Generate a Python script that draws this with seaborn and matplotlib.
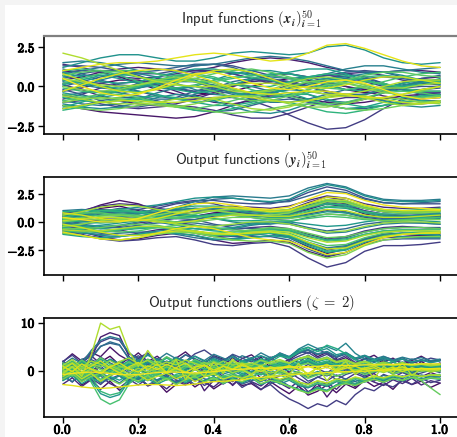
import numpy as np
import pandas as pd
import matplotlib
matplotlib.use("Agg")
import matplotlib.pyplot as plt
import matplotlib.patheffects as pe
from matplotlib.patches import Rectangle
from matplotlib.ticker import FuncFormatter
import seaborn as sns

# ---------------- data (values read / estimated from the reference) ----------------
X_TICKS = [0.0, 0.2, 0.4, 0.6, 0.8, 1.0]
Y_TICKS_12 = [-2.5, 0.0, 2.5]
Y_TICKS_3 = [0, 10]

INPUT_CURVES = [
    [-0.3,-0.1,0.2,0.4,0.4,0.2,-0.1,-0.4,-0.5,-0.3,0.0,0.3,0.5,0.4,0.1,-0.2,-0.4,-0.3,0.0,0.3,0.4],
    [0.9,1.0,0.9,0.6,0.2,-0.2,-0.5,-0.6,-0.4,0.0,0.4,0.7,0.8,0.6,0.3,0.0,-0.2,-0.1,0.2,0.5,0.6],
    [-1.2,-1.4,-1.6,-1.7,-1.8,-1.9,-2.0,-1.9,-1.6,-1.2,-0.8,-0.6,-0.6,-0.8,-1.0,-1.1,-1.0,-0.8,-0.6,-0.5,-0.5],
    [0.4,0.6,0.9,1.1,1.2,1.1,1.0,1.0,1.2,1.5,1.7,1.8,1.7,1.5,1.2,1.0,0.9,0.9,1.0,1.0,0.9],
    [-0.8,-0.5,-0.1,0.2,0.3,0.1,-0.3,-0.7,-1.0,-1.1,-0.9,-0.5,-0.1,0.2,0.2,0.0,-0.3,-0.6,-0.8,-0.8,-0.7],
    [0.1,-0.2,-0.6,-0.9,-1.1,-1.2,-1.1,-0.8,-0.4,0.0,0.3,0.4,0.3,0.0,-0.3,-0.5,-0.5,-0.3,0.0,0.2,0.3],
    [1.4,1.2,0.9,0.6,0.5,0.6,0.8,1.0,1.0,0.8,0.5,0.2,0.1,0.2,0.5,0.8,0.9,0.7,0.4,0.2,0.1],
    [-0.5,-0.8,-1.1,-1.3,-1.4,-1.3,-1.2,-1.3,-1.5,-1.8,-2.0,-2.0,-1.7,-1.3,-0.9,-0.7,-0.7,-0.9,-1.1,-1.1,-1.0],
    [0.2,0.3,0.2,0.0,-0.3,-0.6,-0.8,-0.8,-0.7,-0.7,-0.9,-1.3,-1.8,-2.3,-2.7,-2.6,-2.1,-1.4,-0.8,-0.5,-0.4],
    [0.7,0.4,0.0,-0.2,-0.1,0.2,0.6,0.9,1.0,0.8,0.5,0.3,0.3,0.5,0.7,0.8,0.6,0.2,-0.2,-0.4,-0.4],
    [-1.0,-0.9,-0.6,-0.2,0.2,0.5,0.5,0.3,-0.1,-0.4,-0.5,-0.3,0.1,0.5,0.7,0.6,0.3,0.0,-0.2,-0.2,-0.1],
    [1.3,1.3,1.2,1.0,0.8,0.8,1.0,1.3,1.4,1.3,1.0,0.7,0.5,0.5,0.7,0.9,1.0,0.9,0.6,0.3,0.2],
    [-0.2,-0.5,-0.9,-1.2,-1.3,-1.1,-0.7,-0.3,0.0,0.1,0.0,-0.3,-0.7,-1.0,-1.2,-1.1,-0.8,-0.4,-0.1,0.0,0.0],
    [0.5,0.8,1.0,1.0,0.7,0.3,-0.1,-0.3,-0.2,0.1,0.4,0.5,0.3,0.0,-0.4,-0.6,-0.5,-0.2,0.2,0.5,0.7],
    [-1.4,-1.2,-0.9,-0.7,-0.7,-0.9,-1.2,-1.5,-1.6,-1.5,-1.2,-0.9,-0.8,-0.9,-1.2,-1.4,-1.4,-1.2,-1.0,-0.9,-0.9],
    [0.0,0.3,0.6,0.8,0.9,1.0,1.2,1.4,1.4,1.2,0.8,0.4,0.1,0.0,0.1,0.3,0.5,0.6,0.5,0.3,0.2],
    [1.1,0.8,0.4,0.1,0.0,0.2,0.4,0.5,0.3,-0.1,-0.5,-0.7,-0.6,-0.2,0.2,0.5,0.5,0.2,-0.2,-0.5,-0.6],
    [-0.6,-0.4,-0.3,-0.4,-0.6,-0.8,-0.8,-0.5,-0.1,0.3,0.5,0.4,0.0,-0.5,-0.9,-1.0,-0.8,-0.4,0.0,0.3,0.4],
    [0.8,1.0,1.2,1.4,1.5,1.4,1.3,1.3,1.4,1.6,1.8,1.9,1.8,1.6,1.3,1.0,0.9,0.9,1.0,1.1,1.2],
    [-0.9,-1.1,-1.2,-1.1,-0.8,-0.4,-0.1,0.0,-0.2,-0.5,-0.8,-1.0,-1.0,-0.8,-0.5,-0.2,-0.1,-0.3,-0.6,-0.9,-1.0],
    [0.3,0.1,-0.1,-0.2,-0.1,0.1,0.3,0.3,0.1,-0.2,-0.4,-0.4,-0.2,0.1,0.4,0.5,0.4,0.1,-0.2,-0.3,-0.3],
    [1.5,1.6,1.5,1.3,1.0,0.8,0.7,0.8,0.9,0.9,0.8,0.6,0.5,0.6,0.8,1.1,1.3,1.3,1.1,0.9,0.8],
    [-0.3,0.0,0.4,0.7,0.8,0.6,0.2,-0.2,-0.5,-0.6,-0.5,-0.3,-0.2,-0.3,-0.5,-0.6,-0.5,-0.2,0.1,0.3,0.3],
    [-1.1,-1.3,-1.4,-1.3,-1.0,-0.7,-0.5,-0.6,-0.9,-1.3,-1.6,-1.7,-1.5,-1.1,-0.7,-0.5,-0.6,-0.9,-1.2,-1.3,-1.2],
    [0.6,0.7,0.7,0.5,0.2,-0.1,-0.2,0.0,0.4,0.8,1.0,1.0,0.8,0.6,0.5,0.6,0.8,0.9,0.7,0.4,0.1],
    [1.2,1.5,1.8,2.0,2.0,1.8,1.6,1.6,1.8,2.1,2.2,2.1,2.0,2.1,2.5,2.6,2.3,1.8,1.5,1.4,1.5],
    [-0.4,-0.6,-0.7,-0.5,-0.1,0.3,0.5,0.4,0.0,-0.4,-0.6,-0.5,-0.1,0.3,0.5,0.4,0.1,-0.2,-0.3,-0.2,0.0],
    [0.9,0.6,0.3,0.2,0.3,0.6,0.9,1.1,1.1,0.9,0.7,0.7,0.9,1.1,1.1,0.8,0.4,0.1,0.0,0.2,0.5],
    [-1.3,-1.0,-0.6,-0.3,-0.3,-0.5,-0.8,-1.0,-0.9,-0.6,-0.3,-0.2,-0.4,-0.8,-1.2,-1.4,-1.3,-1.0,-0.7,-0.6,-0.7],
    [0.1,0.4,0.7,0.8,0.6,0.2,-0.2,-0.4,-0.3,0.1,0.5,0.8,0.8,0.5,0.1,-0.2,-0.3,-0.1,0.2,0.4,0.4],
    [-0.7,-0.9,-1.0,-0.9,-0.7,-0.6,-0.7,-1.0,-1.2,-1.2,-1.0,-0.7,-0.5,-0.5,-0.8,-1.1,-1.3,-1.2,-0.9,-0.6,-0.5],
    [0.4,0.2,0.0,-0.1,0.0,0.3,0.6,0.7,0.5,0.2,0.0,0.0,0.3,0.6,0.8,0.7,0.4,0.1,0.0,0.1,0.3],
    [-1.5,-1.3,-1.0,-0.8,-0.8,-1.0,-1.3,-1.5,-1.6,-1.4,-1.1,-0.9,-1.0,-1.3,-1.6,-1.7,-1.5,-1.2,-1.0,-0.9,-1.0],
    [1.0,1.1,1.0,0.7,0.3,0.0,-0.1,0.1,0.4,0.6,0.6,0.4,0.1,-0.1,0.0,0.3,0.6,0.7,0.6,0.4,0.3],
    [-0.1,-0.3,-0.4,-0.3,0.0,0.4,0.7,0.8,0.6,0.2,-0.2,-0.5,-0.6,-0.4,-0.1,0.2,0.3,0.2,-0.1,-0.3,-0.3],
    [0.2,0.5,0.8,1.0,1.0,0.8,0.5,0.3,0.3,0.5,0.7,0.7,0.5,0.2,-0.1,-0.2,0.0,0.3,0.6,0.8,0.9],
    [-0.9,-0.7,-0.5,-0.5,-0.7,-1.0,-1.3,-1.4,-1.2,-0.9,-0.6,-0.5,-0.6,-0.9,-1.1,-1.0,-0.7,-0.4,-0.3,-0.4,-0.6],
    [0.7,0.9,1.0,0.9,0.6,0.4,0.3,0.5,0.8,1.0,1.1,0.9,0.6,0.3,0.2,0.4,0.7,0.9,0.9,0.7,0.6],
    [-0.5,-0.7,-0.8,-0.7,-0.4,-0.1,0.1,0.0,-0.3,-0.7,-0.9,-0.9,-0.6,-0.2,0.1,0.2,0.0,-0.3,-0.6,-0.7,-0.6],
    [-1.2,-1.4,-1.5,-1.4,-1.2,-1.1,-1.2,-1.4,-1.6,-1.7,-1.6,-1.4,-1.2,-1.1,-1.2,-1.4,-1.5,-1.4,-1.2,-1.0,-0.9],
    [0.0,-0.2,-0.3,-0.2,0.1,0.4,0.6,0.5,0.2,-0.2,-0.4,-0.3,0.0,0.3,0.4,0.2,-0.1,-0.4,-0.5,-0.3,0.0],
    [-1.0,-0.8,-0.7,-0.8,-1.0,-1.2,-1.3,-1.1,-0.8,-0.6,-0.6,-0.8,-1.1,-1.3,-1.3,-1.1,-0.8,-0.7,-0.8,-1.0,-1.1],
    [0.5,0.3,0.1,0.0,0.1,0.3,0.4,0.3,0.0,-0.3,-0.4,-0.2,0.2,0.5,0.6,0.4,0.1,-0.1,-0.1,0.1,0.2],
    [-0.6,-0.8,-1.0,-1.1,-1.1,-1.0,-0.8,-0.7,-0.8,-1.1,-1.4,-1.5,-1.3,-0.9,-0.6,-0.5,-0.7,-1.0,-1.2,-1.1,-0.9],
    [2.1,1.8,1.4,1.0,0.6,0.3,0.1,0.0,0.0,0.1,0.2,0.2,0.0,-0.3,-0.5,-0.5,-0.3,0.0,0.3,0.4,0.4],
    [-1.4,-1.2,-1.0,-0.9,-0.9,-1.0,-1.0,-0.9,-0.7,-0.6,-0.7,-0.9,-1.0,-0.9,-0.7,-0.6,-0.6,-0.8,-1.0,-1.1,-1.0],
    [0.8,0.4,0.0,-0.3,-0.4,-0.2,0.2,0.7,1.0,1.1,0.9,0.5,0.1,-0.1,-0.1,0.1,0.4,0.6,0.6,0.4,0.2],
    [-0.3,0.1,0.5,0.8,1.0,1.1,1.0,0.7,0.3,-0.1,-0.4,-0.5,-0.4,-0.3,-0.3,-0.5,-0.7,-0.7,-0.5,-0.2,0.0],
    [1.0,1.2,1.4,1.5,1.5,1.6,1.8,2.0,2.1,2.0,1.8,1.6,1.7,2.1,2.6,2.7,2.4,2.0,1.6,1.3,1.2],
    [0.5,0.0,-0.4,-0.6,-0.5,-0.1,0.4,0.8,0.9,0.6,0.2,-0.1,-0.2,0.0,0.3,0.4,0.2,-0.2,-0.6,-0.8,-0.7],
]

OUTPUT_CURVES = [
    [0.2,0.6,1.2,1.4,1.0,0.5,0.3,0.5,0.8,0.9,0.7,0.5,0.6,1.1,1.6,1.3,0.7,0.4,0.3,0.4,0.5],
    [-0.3,-0.6,-0.9,-0.8,-0.5,-0.4,-0.6,-1.0,-1.3,-1.2,-1.0,-1.0,-1.4,-2.2,-2.8,-2.4,-1.6,-1.2,-1.1,-1.2,-1.2],
    [0.5,0.9,1.5,1.9,1.6,1.0,0.6,0.5,0.7,0.8,0.6,0.4,0.6,1.3,1.9,1.6,0.9,0.6,0.5,0.6,0.7],
    [-0.6,-0.9,-1.3,-1.6,-1.5,-1.2,-1.0,-1.2,-1.6,-1.9,-1.8,-1.6,-1.8,-2.6,-3.1,-2.7,-1.9,-1.4,-1.3,-1.2,-1.0],
    [0.0,0.3,0.7,0.9,0.8,0.6,0.6,0.9,1.2,1.3,1.1,0.9,1.1,1.7,2.2,1.9,1.2,0.9,0.8,0.9,1.0],
    [-1.0,-1.2,-1.4,-1.3,-1.0,-0.7,-0.6,-0.8,-1.1,-1.2,-1.1,-1.0,-1.3,-2.0,-2.5,-2.2,-1.5,-1.1,-1.0,-1.1,-1.3],
    [0.7,1.0,1.4,1.6,1.5,1.2,1.0,1.1,1.3,1.4,1.3,1.2,1.4,1.9,2.3,2.1,1.6,1.3,1.2,1.2,1.3],
    [-0.4,-0.5,-0.6,-0.4,-0.1,0.1,0.0,-0.3,-0.6,-0.7,-0.5,-0.4,-0.6,-1.1,-1.5,-1.3,-0.8,-0.5,-0.4,-0.5,-0.6],
    [-0.8,-1.1,-1.5,-1.7,-1.6,-1.4,-1.3,-1.6,-2.0,-2.1,-1.9,-1.8,-2.2,-3.2,-4.0,-3.6,-2.6,-2.1,-2.1,-2.0,-1.8],
    [0.3,0.2,0.1,0.3,0.7,1.2,1.6,1.8,1.6,1.2,0.9,0.8,0.9,1.3,1.7,1.5,1.0,0.7,0.6,0.6,0.6],
    [-0.2,0.0,0.3,0.4,0.3,0.1,0.0,0.2,0.5,0.6,0.4,0.2,0.3,0.7,1.0,0.8,0.4,0.2,0.2,0.3,0.4],
    [0.6,0.7,0.8,0.9,1.1,1.4,1.7,1.9,1.9,1.7,1.6,1.6,1.9,2.6,3.1,2.8,2.1,1.7,1.6,1.6,1.6],
    [-0.7,-0.8,-0.9,-0.7,-0.3,0.1,0.3,0.2,-0.2,-0.5,-0.6,-0.6,-0.8,-1.3,-1.6,-1.4,-0.9,-0.6,-0.5,-0.5,-0.5],
    [0.1,0.4,0.9,1.2,1.1,0.8,0.7,0.9,1.1,1.0,0.7,0.5,0.5,0.8,1.1,0.9,0.5,0.3,0.3,0.4,0.5],
    [-0.5,-0.7,-1.0,-1.2,-1.2,-1.0,-0.8,-0.9,-1.1,-1.3,-1.3,-1.3,-1.6,-2.4,-3.0,-2.7,-2.0,-1.6,-1.5,-1.5,-1.5],
    [0.8,1.0,1.1,1.0,0.8,0.8,1.1,1.6,2.0,2.1,1.9,1.7,1.8,2.3,2.8,2.6,2.0,1.7,1.6,1.7,1.8],
    [-0.1,-0.3,-0.5,-0.5,-0.3,-0.1,0.0,-0.1,-0.3,-0.3,-0.1,0.0,-0.1,-0.5,-0.8,-0.6,-0.2,0.0,0.0,-0.1,-0.2],
    [0.4,0.6,0.8,0.7,0.4,0.1,0.0,0.2,0.6,0.9,1.0,0.9,1.0,1.5,1.9,1.7,1.2,0.9,0.8,0.7,0.7],
    [-0.9,-1.0,-1.1,-1.0,-0.9,-0.9,-1.1,-1.4,-1.6,-1.5,-1.2,-1.0,-1.2,-1.8,-2.3,-2.1,-1.5,-1.1,-1.0,-1.0,-1.1],
    [0.2,0.1,0.0,0.1,0.4,0.8,1.1,1.2,1.0,0.7,0.5,0.5,0.7,1.2,1.6,1.4,0.9,0.6,0.5,0.5,0.6],
    [1.0,1.1,1.0,0.8,0.7,0.9,1.3,1.8,2.2,2.3,2.2,2.1,2.3,3.0,3.4,3.1,2.4,2.0,1.9,1.9,2.0],
    [-0.3,-0.2,0.0,0.2,0.2,0.0,-0.3,-0.6,-0.7,-0.6,-0.3,-0.1,-0.2,-0.6,-1.0,-0.9,-0.5,-0.2,-0.1,-0.1,-0.2],
    [0.0,-0.2,-0.4,-0.3,0.0,0.4,0.6,0.6,0.3,0.0,-0.2,-0.2,0.0,0.4,0.7,0.6,0.3,0.1,0.1,0.2,0.3],
    [-0.6,-0.9,-1.2,-1.3,-1.1,-0.8,-0.7,-0.9,-1.3,-1.5,-1.4,-1.2,-1.3,-1.9,-2.4,-2.2,-1.6,-1.3,-1.3,-1.4,-1.4],
    [0.5,0.6,0.6,0.5,0.5,0.7,1.0,1.2,1.2,1.0,0.8,0.7,0.8,1.3,1.8,1.7,1.2,0.9,0.8,0.8,0.8],
    [0.3,0.5,0.8,1.1,1.3,1.5,1.8,2.1,2.2,2.1,1.9,1.8,2.0,2.8,3.3,3.0,2.3,1.9,1.8,1.8,1.9],
    [-0.4,-0.4,-0.3,-0.1,0.1,0.1,-0.1,-0.4,-0.6,-0.5,-0.2,0.0,0.0,-0.2,-0.4,-0.3,0.0,0.2,0.2,0.1,0.0],
    [0.6,0.8,1.0,1.0,0.8,0.5,0.4,0.5,0.7,0.8,0.6,0.4,0.4,0.6,0.9,0.8,0.5,0.4,0.5,0.6,0.7],
    [-1.1,-1.3,-1.4,-1.3,-1.1,-1.0,-1.0,-1.2,-1.5,-1.6,-1.4,-1.2,-1.4,-2.1,-2.7,-2.5,-1.8,-1.3,-1.1,-1.1,-1.2],
    [0.1,0.0,-0.1,0.0,0.3,0.6,0.7,0.6,0.3,0.1,0.1,0.2,0.4,0.9,1.3,1.2,0.8,0.5,0.4,0.4,0.4],
    [-0.2,-0.4,-0.6,-0.7,-0.6,-0.5,-0.5,-0.6,-0.8,-0.9,-0.8,-0.7,-0.8,-1.2,-1.6,-1.5,-1.1,-0.8,-0.7,-0.7,-0.7],
    [0.9,1.0,1.0,0.9,0.9,1.0,1.2,1.4,1.4,1.3,1.1,1.0,1.0,1.3,1.6,1.5,1.2,1.0,1.0,1.1,1.2],
    [-0.5,-0.7,-0.8,-0.7,-0.5,-0.4,-0.5,-0.8,-1.1,-1.2,-1.1,-1.0,-1.2,-1.9,-2.6,-2.4,-1.7,-1.2,-1.0,-0.9,-0.9],
    [0.4,0.7,1.0,1.1,0.9,0.6,0.4,0.4,0.6,0.7,0.6,0.5,0.6,1.0,1.4,1.3,0.9,0.7,0.7,0.8,0.9],
    [-0.8,-0.9,-0.9,-0.7,-0.5,-0.5,-0.7,-1.0,-1.2,-1.1,-0.8,-0.6,-0.7,-1.2,-1.7,-1.6,-1.1,-0.8,-0.7,-0.8,-0.9],
    [0.2,0.4,0.6,0.7,0.6,0.4,0.3,0.4,0.6,0.6,0.4,0.2,0.1,0.3,0.5,0.4,0.2,0.1,0.2,0.3,0.4],
    [-0.3,-0.5,-0.8,-0.9,-0.8,-0.5,-0.3,-0.3,-0.5,-0.7,-0.8,-0.8,-1.0,-1.6,-2.1,-2.0,-1.4,-1.0,-0.8,-0.7,-0.6],
    [0.7,0.8,0.8,0.6,0.4,0.3,0.4,0.7,1.0,1.1,1.0,0.8,0.9,1.4,1.9,1.8,1.3,1.0,0.9,0.9,1.0],
    [-0.6,-0.6,-0.5,-0.3,-0.2,-0.3,-0.6,-0.9,-1.0,-0.9,-0.7,-0.5,-0.6,-1.0,-1.4,-1.3,-0.9,-0.6,-0.5,-0.5,-0.6],
    [0.0,0.2,0.5,0.6,0.5,0.2,0.0,0.0,0.2,0.4,0.4,0.3,0.3,0.5,0.7,0.6,0.3,0.1,0.1,0.2,0.2],
    [-1.0,-1.2,-1.5,-1.6,-1.4,-1.1,-0.9,-1.0,-1.3,-1.6,-1.7,-1.7,-1.9,-2.7,-3.2,-2.9,-2.1,-1.6,-1.4,-1.3,-1.3],
    [0.3,0.3,0.2,0.2,0.3,0.6,0.9,1.1,1.0,0.8,0.6,0.6,0.8,1.3,1.8,1.7,1.2,0.9,0.8,0.8,0.9],
    [-0.4,-0.2,0.1,0.3,0.3,0.1,-0.2,-0.4,-0.4,-0.2,0.0,0.0,-0.2,-0.6,-0.9,-0.8,-0.4,-0.1,0.0,0.0,-0.1],
    [0.6,0.9,1.3,1.5,1.4,1.1,0.8,0.8,1.0,1.2,1.1,1.0,1.1,1.6,2.0,1.9,1.4,1.1,1.0,1.0,1.1],
    [-0.7,-0.8,-0.8,-0.6,-0.4,-0.4,-0.6,-0.9,-1.1,-1.1,-0.9,-0.8,-0.9,-1.4,-1.8,-1.7,-1.2,-0.9,-0.8,-0.8,-0.8],
    [0.1,0.3,0.4,0.4,0.2,0.0,-0.1,0.1,0.4,0.6,0.6,0.5,0.5,0.8,1.1,1.0,0.6,0.4,0.4,0.5,0.6],
    [-0.2,-0.5,-0.9,-1.2,-1.2,-1.0,-0.8,-0.8,-1.0,-1.1,-1.0,-0.9,-1.1,-1.8,-2.4,-2.3,-1.7,-1.3,-1.1,-1.0,-0.9],
    [0.8,0.6,0.3,0.1,0.1,0.3,0.7,1.1,1.3,1.3,1.1,0.9,1.0,1.6,2.2,2.1,1.5,1.1,1.0,1.0,1.0],
    [-0.9,-1.2,-1.5,-1.6,-1.4,-1.0,-0.6,-0.4,-0.6,-1.0,-1.4,-1.6,-1.7,-2.3,-2.9,-2.7,-2.0,-1.4,-1.1,-1.0,-1.0],
    [0.4,0.2,0.0,0.0,0.3,0.8,1.3,1.6,1.7,1.5,1.2,1.1,1.3,2.0,2.6,2.5,1.9,1.5,1.3,1.2,1.1],
]

OUTLIER_CURVES = [
    [1.5,0.2,2.1,-0.5,1.8,3.0,1.2,2.6,0.4,1.9,-0.3,1.1,2.4,0.8,1.6,-0.2,1.3,2.2,0.5,1.7,0.9,2.8,0.6,1.4,-0.4,1.2,2.0,0.3,1.8,2.5,0.7,1.5,-0.1,1.0,2.3,0.6,1.4,0.2,1.9,0.8,1.6],
    [-2.0,-0.4,-3.0,-1.8,-3.9,-2.2,-4.1,-2.6,-1.5,-3.2,-2.4,-4.5,-2.9,-1.7,-3.4,-2.1,-3.8,-2.5,-1.6,-3.1,-2.7,-4.0,-2.3,-3.6,-4.8,-3.2,-5.1,-4.3,-3.0,-4.6,-2.8,-3.7,-2.0,-3.3,-2.4,-3.9,-1.8,-2.9,-2.2,-3.5,-2.6],
    [1.8,3.5,2.0,3.8,2.9,4.9,3.2,2.1,3.7,1.9,3.0,1.4,2.6,3.9,2.2,1.6,3.1,2.4,1.2,2.5,3.3,1.7,2.8,1.3,2.3,3.6,4.4,2.9,3.8,2.0,2.7,1.5,2.4,3.2,1.8,2.6,1.3,2.1,3.0,1.9,2.3],
    [-0.5,1.2,-1.8,2.4,7.0,7.9,7.3,3.0,0.6,1.9,1.2,-0.4,1.5,-2.1,-0.6,-4.2,-2.0,-0.9,-3.1,-1.2,0.5,-1.6,-0.3,-2.4,-1.0,-3.3,-4.8,-2.6,-5.5,-3.0,-1.8,-3.4,-1.4,-0.6,-2.2,-0.9,-1.7,0.2,-1.3,-0.4,-1.1],
    [2.0,0.6,1.7,3.1,1.4,0.3,1.9,0.8,2.6,1.2,0.1,1.5,2.3,0.9,1.8,0.4,2.1,1.0,2.7,1.3,0.5,1.6,0.2,1.1,2.4,1.7,3.2,2.0,1.0,2.2,0.8,1.5,2.5,1.1,0.4,1.8,0.9,2.0,1.2,0.6,1.4],
    [-2.8,-1.5,-3.3,-1.9,-1.1,-2.7,-3.6,-2.0,-1.3,-3.1,-2.4,-3.8,-2.1,-3.0,-1.6,-2.5,-3.4,-1.8,-2.9,-1.4,-2.3,-3.2,-1.7,-2.6,-3.7,-2.2,-4.4,-3.3,-2.5,-3.9,-2.0,-2.8,-1.5,-2.4,-3.1,-1.9,-2.7,-1.6,-3.0,-2.1,-2.6],
    [0.3,1.6,0.5,-0.8,0.9,2.3,1.1,0.0,1.4,0.6,-0.4,0.8,1.7,0.2,1.0,-0.6,0.7,1.5,0.1,1.2,0.4,-0.3,1.3,0.5,1.9,0.7,2.6,1.5,0.6,1.8,0.3,1.1,-0.2,0.9,1.6,0.4,1.0,-0.1,0.8,1.4,0.6],
    [-1.3,0.2,-0.9,-2.2,-0.6,0.8,-1.1,-2.5,-0.4,-1.7,-0.8,0.3,-1.4,-0.5,-2.0,-1.0,0.1,-1.2,-2.3,-0.7,-1.5,-0.2,-1.9,-1.1,-0.3,-1.6,-2.7,-1.3,-2.1,-0.9,-1.8,-0.6,-1.4,-2.2,-0.8,-1.5,-0.4,-1.2,-2.0,-0.9,-1.3],
    [-0.8,-2.4,-0.3,-1.6,-2.9,-1.1,-0.2,-1.8,-3.0,-1.5,-2.3,-0.6,-1.9,-2.7,-1.2,-3.1,-2.0,-2.8,-1.6,-3.5,-2.4,-3.9,-2.9,-4.6,-5.9,-6.8,-7.9,-6.9,-7.5,-6.2,-7.1,-5.0,-3.6,-4.2,-2.8,-3.4,-2.1,-2.9,-1.6,-2.5,-2.0],
    [1.9,3.2,1.5,3.6,6.0,6.8,6.3,3.5,2.6,3.7,2.0,1.3,2.8,1.9,3.5,4.3,2.9,2.1,3.2,1.8,2.7,1.4,2.3,3.3,2.1,3.0,3.8,2.6,3.4,2.2,3.1,1.7,2.5,1.8,2.9,2.3,1.6,2.4,1.9,2.6,2.2],
    [0.0,-1.4,0.6,-0.5,1.0,-0.9,0.3,1.4,-0.2,0.7,-1.0,0.2,1.1,-0.4,0.5,-0.8,0.4,1.2,-0.3,0.6,-0.6,0.3,1.0,-0.2,0.8,0.1,1.3,0.4,-0.5,0.9,-0.1,0.6,-0.7,0.2,0.9,-0.3,0.5,-0.4,0.3,0.7,0.2],
    [1.4,0.3,2.2,1.1,2.8,1.6,0.7,2.0,3.1,1.7,2.5,1.0,1.9,3.3,2.3,1.5,2.8,2.0,3.4,2.6,1.8,3.0,2.2,3.7,2.9,4.1,3.6,4.5,3.5,2.7,3.8,2.5,3.1,2.0,2.7,1.8,2.4,1.5,2.2,1.7,2.1],
    [-0.9,0.4,-1.5,-0.3,-1.1,0.5,-0.6,-1.8,-0.2,0.9,-0.5,-1.3,0.1,-0.8,0.6,-0.4,-1.0,0.3,-0.7,-1.5,-0.3,0.4,-0.9,-0.1,-1.6,-0.6,-2.2,-1.4,-0.5,-1.9,-0.8,-0.2,-1.1,-0.4,0.2,-0.7,-0.3,-1.0,-0.5,0.1,-0.4],
    [0.6,1.9,0.9,2.3,1.4,0.5,1.7,0.8,2.1,1.2,2.5,1.5,0.6,1.8,0.9,0.2,1.3,0.7,1.6,0.4,1.1,-0.1,0.8,1.5,0.5,1.2,1.9,0.9,1.6,0.6,1.3,0.4,1.0,0.3,0.9,0.5,1.2,0.6,1.0,0.4,0.8],
    [-1.5,-0.4,-2.1,-1.0,-2.6,-1.7,-0.9,-2.3,-1.4,-3.0,-1.9,-1.0,-2.5,-1.6,-2.9,-2.0,-1.3,-2.4,-1.7,-2.8,-2.1,-1.5,-2.7,-2.0,-3.2,-3.9,-4.5,-3.6,-4.1,-3.0,-2.5,-3.1,-2.2,-1.7,-2.4,-1.6,-2.1,-1.4,-1.9,-1.5,-1.7],
    [1.8,0.7,2.4,2.8,5.1,5.7,5.3,2.6,0.8,2.2,1.3,2.8,1.9,3.3,2.5,1.6,2.9,2.1,3.2,1.8,2.4,1.5,2.6,3.4,2.7,3.6,4.2,3.3,3.9,2.8,3.4,2.2,2.9,1.9,2.5,2.0,2.7,1.7,2.3,1.8,2.2],
    [-0.2,1.0,-0.6,0.5,-1.2,0.2,0.9,-0.5,0.4,-0.9,0.1,-0.3,0.8,-0.6,0.3,-1.0,-0.2,0.6,-0.7,0.2,-0.4,0.7,-0.5,0.1,-0.9,-0.3,-1.4,-0.6,-1.1,-0.2,0.4,-0.5,0.3,-0.3,0.5,-0.4,0.2,-0.6,0.1,-0.2,0.0],
    [0.7,-0.5,1.3,2.5,5.0,6.0,5.4,2.4,0.3,1.6,0.9,2.0,1.2,0.5,1.8,1.0,2.3,1.4,0.7,1.9,1.1,2.4,1.3,0.8,1.7,2.5,3.0,2.2,2.8,1.6,2.1,1.2,1.8,0.9,1.5,0.7,1.3,0.8,1.1,0.6,0.9],
    [-1.2,-2.3,-0.7,-1.8,-0.5,-1.4,-2.6,-1.0,-1.9,-0.8,-2.0,-1.3,-2.4,-1.1,-0.6,-1.7,-2.2,-1.0,-1.9,-0.9,-1.5,-2.3,-1.2,-2.0,-1.6,-2.8,-3.4,-2.5,-3.1,-2.2,-1.7,-2.3,-1.4,-1.8,-1.0,-1.5,-1.1,-1.6,-0.9,-1.3,-1.2],
    [0.4,-0.8,0.9,1.8,0.5,-0.4,1.3,0.2,1.6,2.3,1.1,0.3,1.5,0.7,1.9,0.4,1.0,-0.2,0.8,0.3,1.2,0.5,0.9,1.6,0.7,1.4,2.0,1.3,1.8,0.9,1.5,0.6,1.1,0.4,0.9,0.3,0.8,0.5,0.7,0.4,0.6],
    [1.2,2.6,1.5,4.2,6.3,7.1,6.6,3.8,2.2,3.4,2.2,3.6,2.5,1.7,3.0,2.1,3.4,2.6,1.8,3.1,2.4,3.7,2.7,3.3,2.6,3.9,4.4,3.5,4.0,3.0,3.6,2.6,3.2,2.4,3.0,2.2,2.8,2.3,2.7,2.1,2.4],
    [-0.3,0.8,-0.9,0.2,-0.5,0.9,-0.2,-1.1,0.4,-0.6,0.3,-0.8,0.1,-0.4,-1.2,-0.3,0.5,-0.7,-0.1,-0.9,-0.2,0.4,-0.6,-0.1,-1.0,-0.4,-1.3,-0.8,-0.2,-1.1,-0.5,0.1,-0.6,-0.2,0.3,-0.4,0.0,-0.5,-0.1,0.2,-0.2],
    [0.2,1.4,-0.4,0.9,1.8,0.5,1.5,-0.1,1.1,0.4,1.7,0.6,1.3,0.2,1.9,1.0,2.3,1.2,0.5,1.6,2.2,1.4,2.6,3.3,2.8,4.5,5.5,4.6,5.0,4.2,5.7,3.6,2.4,1.7,2.3,1.0,1.8,0.7,1.4,0.9,1.1],
    [-1.7,-0.6,-2.2,-1.3,-0.8,-2.0,-1.1,-2.5,-1.6,-0.9,-2.1,-1.4,-2.7,-1.8,-1.0,-2.3,-1.5,-2.0,-1.2,-2.6,-1.7,-2.2,-1.4,-2.8,-2.0,-3.1,-3.6,-2.7,-3.3,-2.3,-2.8,-1.9,-2.4,-1.6,-2.1,-1.5,-1.9,-1.3,-1.7,-1.4,-1.6],
    [0.9,-0.2,1.4,0.5,1.9,0.8,0.1,1.2,2.0,1.0,1.6,0.5,1.3,0.8,1.7,0.9,2.1,1.2,0.6,1.5,0.9,2.2,1.4,1.8,1.1,2.4,2.9,2.0,2.5,1.5,2.0,1.2,1.7,0.9,1.4,0.8,1.2,0.7,1.0,0.8,0.9],
    [0.5,1.8,0.6,2.0,1.1,2.4,1.5,2.8,1.9,3.2,2.2,1.6,2.7,2.0,3.0,1.9,2.5,1.7,2.9,2.0,2.6,3.1,2.4,3.6,2.9,4.3,4.9,4.0,4.6,3.3,3.8,2.6,3.1,2.2,2.7,1.9,2.4,1.8,2.2,1.7,2.0],
    [-0.6,0.5,-1.1,-2.0,-4.8,-5.6,-5.0,-2.2,-1.3,-0.1,-0.9,0.4,-0.4,-1.0,0.2,-0.5,-1.1,-0.3,0.3,-0.6,-0.1,-0.9,0.0,-0.5,0.2,-0.4,-0.9,-0.2,-0.7,0.3,-0.3,0.5,-0.1,0.4,-0.2,0.3,0.0,0.5,0.1,-0.2,0.1],
    [1.0,-0.1,1.6,0.7,2.0,0.9,0.3,1.4,0.6,1.8,0.8,0.2,1.2,0.5,1.5,0.3,1.1,0.6,1.4,0.4,1.0,1.6,0.7,1.2,0.5,1.4,2.0,1.1,1.6,0.7,1.2,0.4,1.0,0.6,1.3,0.8,1.5,0.9,1.2,0.7,1.0],
    [-2.1,-1.0,-2.7,-1.6,-2.3,-1.2,-2.0,-0.9,-2.4,-1.7,-2.8,-1.9,-1.2,-2.5,-1.6,-2.2,-1.3,-2.7,-1.8,-2.4,-1.5,-2.9,-2.1,-2.6,-3.3,-4.0,-4.6,-3.8,-4.3,-3.1,-2.6,-3.0,-2.2,-1.8,-2.4,-1.7,-2.1,-1.5,-2.0,-1.6,-1.8],
    [0.2,1.3,-0.3,0.6,-0.6,0.8,0.1,1.1,-0.2,0.5,0.9,-0.1,0.6,0.0,0.8,0.3,-0.2,0.7,0.1,0.5,1.0,0.3,0.8,1.4,0.9,1.8,2.2,1.5,2.0,1.2,1.6,0.8,1.2,0.5,0.9,0.4,0.8,0.3,0.7,0.5,0.6],
    [-0.4,0.9,-0.8,0.5,1.5,-0.2,1.0,2.0,0.6,-0.3,1.2,0.4,1.8,0.7,2.1,1.1,0.3,1.4,0.8,2.0,1.3,2.5,1.8,3.0,2.6,3.9,4.8,4.0,5.3,4.6,3.5,2.3,1.6,2.2,1.2,1.9,0.8,1.5,0.5,1.1,0.7],
    [1.3,0.2,1.9,0.9,2.4,1.4,0.6,1.7,1.0,2.2,1.3,2.6,1.6,0.8,1.9,1.1,2.3,1.4,0.9,1.8,1.2,2.1,1.5,1.0,1.7,2.3,2.7,1.9,2.4,1.6,2.0,1.3,1.8,1.1,1.6,1.2,1.7,1.0,1.5,1.2,1.4],
    [-1.0,0.2,-1.6,-0.5,-2.1,-0.9,-0.3,-1.5,-2.4,-1.1,-0.6,-1.8,-1.0,-2.2,-1.3,-0.7,-1.9,-1.1,-1.6,-0.8,-1.4,-2.0,-1.2,-2.5,-3.2,-3.9,-4.7,-3.5,-4.2,-3.0,-2.3,-2.7,-1.8,-1.3,-1.9,-1.1,-1.5,-0.8,-1.3,-0.9,-1.0],
    [0.8,2.0,0.5,-1.2,-4.3,-5.1,-4.6,-1.5,1.0,2.3,1.2,0.6,1.5,0.8,1.8,0.9,0.3,1.2,0.6,1.6,0.8,1.3,0.7,1.5,1.0,1.8,2.3,1.4,1.9,1.1,1.5,0.9,1.4,0.8,1.3,1.0,1.5,0.9,1.3,1.0,1.2],
    [-1.4,-0.3,-1.9,-0.7,-1.2,0.1,-0.9,-1.6,-0.5,-1.3,-0.4,-1.7,-0.8,-1.4,-0.5,-1.1,-0.3,-1.5,-0.9,-1.7,-1.1,-0.6,-1.4,-0.9,-1.8,-2.4,-2.9,-2.2,-2.6,-1.8,-2.1,-1.5,-1.9,-1.2,-1.6,-1.0,-1.4,-0.9,-1.3,-1.0,-1.1],
    [0.4,-1.2,0.9,-2.4,-5.9,-7.0,-6.1,-2.8,-0.9,-2.1,-0.5,0.8,-0.4,0.6,1.5,0.3,1.0,-0.2,0.8,-0.3,0.5,1.2,0.2,0.9,0.3,1.1,1.6,0.8,1.3,0.4,0.9,0.1,0.7,-0.2,0.5,0.0,0.6,-0.1,0.4,0.1,0.3],
    [-0.7,0.6,-1.3,-0.3,-1.8,-0.8,0.2,-1.1,-0.4,-1.6,-0.9,-2.0,-1.2,-0.5,-1.5,-0.8,-1.9,-1.1,-0.6,-1.4,-1.0,-1.8,-1.2,-2.2,-1.7,-2.8,-3.3,-2.6,-3.0,-2.1,-2.5,-1.6,-2.0,-1.3,-1.7,-1.0,-1.4,-0.8,-1.2,-0.9,-0.8],
    [1.6,0.6,2.2,1.0,2.7,1.3,0.5,1.8,0.9,2.4,1.5,2.9,1.8,1.1,2.3,1.4,2.0,1.1,1.6,0.9,1.4,2.1,1.3,1.9,1.5,2.4,2.9,2.2,2.6,1.8,2.2,1.4,1.8,1.1,1.6,1.0,1.5,1.1,1.4,1.2,1.3],
    [-0.5,0.7,-1.0,0.2,-0.6,0.8,-0.3,-1.4,0.1,-0.9,0.3,-0.6,0.5,-0.4,-1.1,0.0,-0.8,0.4,-0.5,0.2,-0.7,-0.1,-1.0,-0.4,-1.3,-0.6,-1.6,-0.9,-0.3,-1.2,-0.5,0.1,-0.8,-0.2,0.4,-0.7,-0.1,-0.9,-2.1,-3.6,-5.0],
    [0.1,-1.0,0.6,1.3,0.2,-0.6,0.9,0.1,1.2,0.4,-0.3,0.8,0.0,1.0,0.3,-0.4,0.7,0.0,1.1,0.2,0.6,-0.2,0.5,0.9,0.3,1.0,1.5,0.7,1.2,0.4,0.8,0.1,0.6,-0.1,0.5,0.2,0.7,0.1,0.5,0.3,0.4],
    [-1.8,-0.6,-2.3,-1.2,-0.5,-1.9,-2.8,-1.5,-2.2,-1.0,-2.5,-1.6,-2.9,-1.9,-1.2,-2.4,-1.5,-2.6,-1.8,-2.3,-1.4,-2.7,-2.0,-2.5,-3.3,-4.1,-4.7,-3.9,-4.4,-3.2,-2.7,-3.1,-2.3,-1.8,-2.4,-1.6,-2.0,-1.4,-1.9,-1.5,-1.7],
    [0.6,1.7,0.3,1.4,0.8,2.1,1.0,0.4,1.5,0.7,1.9,1.1,2.4,1.4,0.8,1.7,1.0,2.0,1.2,1.6,1.0,2.2,1.5,2.0,1.6,2.5,3.1,2.3,2.8,1.9,2.3,1.5,2.0,1.3,1.8,1.2,1.7,1.1,1.5,1.2,1.3],
    [-0.3,0.9,-0.7,0.4,-0.2,1.0,0.2,-0.6,0.5,-0.3,0.6,-0.5,0.3,-0.2,-0.9,0.0,-0.6,0.3,-0.4,0.1,-0.6,0.2,-0.5,0.0,-0.8,-0.2,-1.1,-0.5,-0.9,-0.1,-0.5,0.2,-0.3,0.1,-0.4,0.2,-0.2,0.3,-0.1,0.1,-0.1],
    [1.1,2.3,0.8,2.0,1.3,0.6,1.9,2.6,1.4,2.1,1.0,1.8,1.2,2.2,1.5,0.9,1.7,1.1,2.0,1.3,1.6,1.0,1.8,2.3,1.6,2.5,2.9,2.1,2.6,1.7,2.1,1.3,1.8,1.1,1.5,1.0,1.4,1.1,1.3,1.0,1.2],
    [-0.6,0.8,-1.2,3.2,9.9,8.6,9.2,4.0,0.9,4.2,1.5,-0.4,2.3,-1.9,0.5,-1.2,1.8,-0.6,2.4,0.2,-0.9,1.1,-1.6,0.4,-0.7,1.5,-1.3,0.8,-2.1,0.3,1.9,-0.8,0.6,-1.5,0.9,-0.5,1.6,-1.0,0.4,-0.3,0.2],
    [-1.2,-0.1,-1.7,-0.6,-2.2,-1.0,-0.4,-1.5,-0.8,-2.0,-1.2,-0.5,-1.7,-0.9,-2.3,-1.3,-0.7,-1.8,-1.1,-1.6,-0.9,-2.1,-1.3,-1.8,-1.2,-2.4,-2.9,-2.1,-2.6,-1.7,-2.1,-1.3,-1.8,-1.1,-1.5,-0.9,-1.3,-0.8,-1.2,-0.9,-1.0],
    [0.3,1.5,-0.2,0.9,2.0,0.6,-0.5,0.8,1.7,0.2,1.3,-0.4,0.6,1.6,0.1,1.1,-0.3,0.9,0.3,1.4,0.5,-0.2,0.8,0.2,1.0,0.4,-0.6,0.6,1.3,0.1,0.9,-0.3,0.5,1.0,0.2,0.7,-0.2,0.6,0.1,0.4,0.3],
    [0.9,-0.2,1.4,0.3,-0.6,0.8,1.6,0.4,-0.3,1.0,0.2,1.3,0.5,-0.4,0.7,1.2,0.1,0.9,0.3,1.1,0.4,0.8,0.0,0.6,1.0,0.3,0.9,0.2,0.7,-0.1,0.5,0.9,0.2,0.6,-0.2,0.4,0.8,0.1,0.5,0.2,0.4],
    [-2.9,-3.1,-3.4,-3.6,-3.7,-3.6,-3.4,-3.2,-3.0,-2.9,-2.9,-3.0,-3.1,-3.0,-2.8,-2.5,-2.3,-2.2,-2.1,-1.9,-1.6,-1.4,-1.2,-1.1,-0.9,-0.7,-0.6,-0.5,-0.4,-0.3,-0.2,-0.2,-0.1,0.0,0.1,0.2,0.3,0.3,0.4,0.4,0.5],
    [-0.8,-0.6,-0.4,-0.3,-0.4,-0.6,-0.8,-0.9,-0.8,-0.6,-0.4,-0.3,-0.3,-0.4,-0.5,-0.4,-0.2,0.0,0.2,0.3,0.4,0.5,0.5,0.6,0.7,0.8,0.8,0.9,1.0,1.0,1.1,1.1,1.2,1.2,1.2,1.3,1.3,1.3,1.4,1.4,1.4],
]

# ---------------- styling ----------------
sns.set_style("ticks")
plt.rcParams["mathtext.fontset"] = "cm"


def mathtext_ok(s):
    try:
        f = plt.figure()
        f.text(0.1, 0.1, s)
        f.canvas.draw()
        plt.close(f)
        return True
    except Exception:
        plt.close("all")
        return False


BI = r"\mathbfit" if mathtext_ok(r"$\mathbfit{x}$") else r"\mathbf"

TITLE_1 = r"Input functions $\mathbf{(}%s{x}_{%s{i}}\mathbf{)}_{%s{i}\mathbf{=1}}^{\mathbf{50}}$" % (BI, BI, BI)
TITLE_2 = r"Output functions $\mathbf{(}%s{y}_{%s{i}}\mathbf{)}_{%s{i}\mathbf{=1}}^{\mathbf{50}}$" % (BI, BI, BI)
TITLE_3 = r"Output functions outliers $\mathbf{(}\zeta\;\mathbf{=}\;\mathbf{2)}$"


def long_df(curves):
    rows = []
    for k, c in enumerate(curves):
        t = np.linspace(0.0, 1.0, len(c))
        for ti, v in zip(t, c):
            rows.append((f"c{k:02d}", ti, v))
    return pd.DataFrame(rows, columns=["curve", "t", "v"])


W, H = 457, 437
fig = plt.figure(figsize=(W / 100, H / 100), dpi=100)
fig.patch.set_facecolor("white")
fig.patches.append(Rectangle((0, 0), 5 / W, 1, transform=fig.transFigure,
                             facecolor="#f4f4f4", edgecolor="none", zorder=-5))
fig.patches.append(Rectangle((0, 1 - 5 / H), 1, 5 / H, transform=fig.transFigure,
                             facecolor="#f4f4f4", edgecolor="none", zorder=-5))

bold_fx = [pe.withStroke(linewidth=0.7, foreground="black")]

left = 44 / W
width = 415 / W
panels = [
    (INPUT_CURVES, TITLE_1, (1 - 134 / H, 98.3 / H), (-3.0, 3.2), Y_TICKS_12, "%.1f", False, "#808080"),
    (OUTPUT_CURVES, TITLE_2, (1 - 275 / H, 98.3 / H), (-4.7, 4.0), Y_TICKS_12, "%.1f", False, "black"),
    (OUTLIER_CURVES, TITLE_3, (1 - 416.7 / H, 98.4 / H), (-9.6, 10.9), Y_TICKS_3, "%d", True, "black"),
]

for curves, title, (bot, hgt), ylim, yticks, yfmt, show_x, topcol in panels:
    ax = fig.add_axes([left, bot, width, hgt])
    df = long_df(curves)
    levels = [f"c{k:02d}" for k in range(len(curves))]
    pal = sns.color_palette("viridis", n_colors=len(curves))
    sns.lineplot(data=df, x="t", y="v", hue="curve", hue_order=levels, palette=pal,
                 legend=False, estimator=None, sort=False, lw=1.0, ax=ax)
    ax.set_xlim(-0.05, 1.05)
    ax.set_ylim(*ylim)
    ax.set_xticks(X_TICKS)
    ax.set_yticks(yticks)
    ax.xaxis.set_major_formatter(FuncFormatter(lambda v, p: r"$\mathbf{%.1f}$" % v))
    ax.yaxis.set_major_formatter(FuncFormatter(lambda v, p, f=yfmt: r"$\mathbf{%s}$" % (f % v)))
    ax.set_xlabel("")
    ax.set_ylabel("")
    ax.tick_params(axis="both", direction="out", length=4, width=1.0, labelsize=9.5,
                   colors="black", pad=2)
    ax.tick_params(axis="x", pad=1, labelbottom=show_x)
    for lab in ax.get_xticklabels() + ax.get_yticklabels():
        lab.set_path_effects(bold_fx)
    for side in ("left", "bottom"):
        ax.spines[side].set_color("black")
        ax.spines[side].set_linewidth(1.2)
    ax.spines["right"].set_visible(False)
    ax.spines["top"].set_visible(True)
    ax.spines["top"].set_color(topcol)
    ax.spines["top"].set_linewidth(1.6 if topcol != "black" else 1.2)
    ax.set_title(title, fontsize=10.5, family="cmss10", pad=8)

fig.savefig("out.png", dpi=100, facecolor="white")
